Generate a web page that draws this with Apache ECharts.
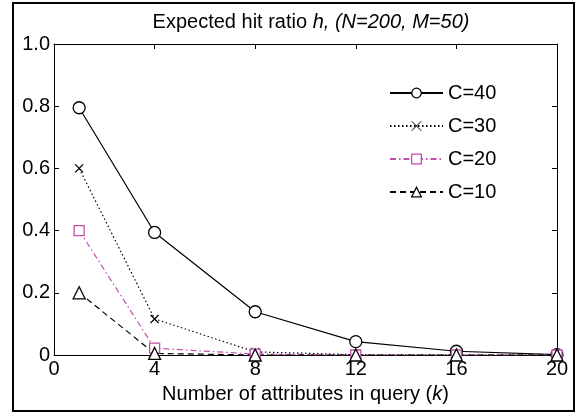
<!DOCTYPE html>
<html><head><meta charset="utf-8">
<script src="https://cdn.jsdelivr.net/npm/echarts@6/dist/echarts.min.js"></script>
<style>html,body{margin:0;padding:0;background:#fff}#c{width:577px;height:415px}</style>
</head><body><div id="c"></div>
<script>
const kValues = [1, 4, 8, 12, 16, 20];
const seriesNames = ['C=40', 'C=30', 'C=20', 'C=10'];
const c40 = [0.795, 0.394, 0.139, 0.043, 0.012, 0.001];
const c30 = [0.600, 0.116, 0.010, 0.001, 0.000, 0.000];
const c20 = [0.400, 0.022, 0.003, 0.000, 0.000, 0.000];
const c10 = [0.200, 0.005, 0.000, 0.000, 0.000, 0.000];
const xTicks = [0, 4, 8, 12, 16, 20];
const yTicks = [0, 0.2, 0.4, 0.6, 0.8, 1.0];

const FONT = 'Liberation Sans';
const FS = 20;
const MAG = '#c24fae';
const pair = a => kValues.map((k, i) => [k, a[i]]);
const crossPath = 'path://M0,0L10,10M10,0L0,10';

const chart = echarts.init(document.getElementById('c'), null, {renderer: 'canvas'});
const axisCommon = {
  axisLine: {show: true, onZero: false, lineStyle: {color: '#000', width: 1}},
  axisTick: {show: true, inside: true, length: 5, lineStyle: {color: '#000'}},
  splitLine: {show: false}
};
function mk(name, data, color, lineType, symbol, size) {
  return {
    name, type: 'line', data: pair(data), symbol, symbolSize: size,
    lineStyle: {color, width: 1.2, type: lineType},
    itemStyle: {color: symbol === crossPath ? color : '#fff', borderColor: color, borderWidth: 1.3},
    color, z: 3
  };
}
const legendColors = {'C=40': '#000', 'C=30': '#000', 'C=20': MAG, 'C=10': '#000'};
chart.setOption({
  animation: false,
  textStyle: {fontFamily: FONT},
  title: {
    text: 'Expected hit ratio {i|h, (N=200, M=50)}',
    left: 306, top: 7, textAlign: 'center',
    textStyle: {fontFamily: FONT, fontSize: FS, fontWeight: 'normal', color: '#000',
      rich: {i: {fontFamily: FONT, fontSize: FS, fontStyle: 'italic', color: '#000'}}}
  },
  grid: {left: 54, right: 20, top: 44, bottom: 60},
  legend: {
    orient: 'vertical', left: 384, top: 78, itemWidth: 53, itemHeight: 12, itemGap: 13,
    textStyle: {fontFamily: FONT, fontSize: FS, color: '#000'},
    data: seriesNames.map(n => n === 'C=30' ?
      {name: n, itemStyle: {color: '#000', borderColor: '#000', borderWidth: 1}} :
      {name: n, itemStyle: {color: '#fff', borderColor: legendColors[n], borderWidth: 1.3}})
  },
  xAxis: [
    Object.assign({type: 'value', min: 0, max: 20, interval: 4, position: 'bottom',
      name: 'Number of attributes in query ({i|k})', nameLocation: 'middle', nameGap: 29,
      nameTextStyle: {fontFamily: FONT, fontSize: FS, color: '#000',
        rich: {i: {fontFamily: FONT, fontSize: FS, fontStyle: 'italic', color: '#000'}}},
      axisLabel: {fontFamily: FONT, fontSize: FS, color: '#000', margin: 4,
        formatter: v => xTicks.includes(v) ? String(v) : ''}}, axisCommon),
    Object.assign({type: 'value', min: 0, max: 20, interval: 4, position: 'top',
      axisLabel: {show: false}}, axisCommon)
  ],
  yAxis: [
    Object.assign({type: 'value', min: 0, max: 1, interval: 0.2, position: 'left',
      axisLabel: {fontFamily: FONT, fontSize: FS, color: '#000', margin: 4,
        formatter: v => { const t = yTicks.find(y => Math.abs(y - v) < 1e-9); return t === undefined ? '' : (t === 0 ? '0' : t.toFixed(1)); }}}, axisCommon),
    Object.assign({type: 'value', min: 0, max: 1, interval: 0.2, position: 'right',
      axisLabel: {show: false}}, axisCommon)
  ],
  graphic: [{type: 'rect', shape: {x: 13, y: 3, width: 561, height: 408},
    style: {fill: 'none', stroke: '#000', lineWidth: 2}, silent: true, z: 10}],
  series: [
    mk('C=40', c40, '#000', 'solid', 'circle', 12),
    mk('C=30', c30, '#000', [1.5, 2.5], crossPath, 8),
    mk('C=20', c20, MAG, [6, 3, 1.5, 3], 'rect', 10),
    mk('C=10', c10, '#000', [6, 4], 'triangle', 12)
  ]
});
</script></body></html>
